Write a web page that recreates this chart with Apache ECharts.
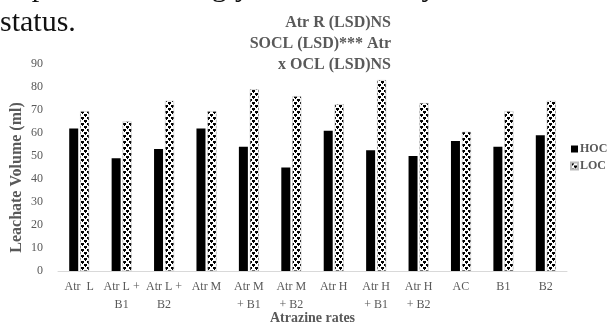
<!DOCTYPE html>
<html>
<head>
<meta charset="utf-8">
<script src="https://cdn.jsdelivr.net/npm/echarts@6/dist/echarts.min.js"></script>
<style>
  html, body { margin: 0; padding: 0; background: #fff; }
  #chart { width: 610px; height: 324px; }
</style>
</head>
<body>
<div id="chart"></div>
<script>
const categories = ["Atr  L", "Atr L +\nB1", "Atr L +\nB2", "Atr M", "Atr M\n+ B1", "Atr M\n+ B2",
  "Atr H", "Atr H\n+ B1", "Atr H\n+ B2", "AC", "B1", "B2"];
const hocValues = [62, 49, 53, 62, 54, 45, 61, 52.5, 50, 56.5, 54, 59];
const locValues = [69.5, 65, 74, 69.5, 79, 76, 72.5, 83, 73, 60.5, 69.5, 74];
const titleLines = ["Atr R (LSD)NS", "SOCL (LSD)*** Atr", "x OCL (LSD)NS"];
const bodyLines = ["impact: was strongly conditioned by soil OC", "status."];

function confettiPattern() {
  const c = document.createElement("canvas");
  c.width = 6;
  c.height = 6;
  const ctx = c.getContext("2d");
  ctx.fillStyle = "#ffffff";
  ctx.fillRect(0, 0, 6, 6);
  ctx.fillStyle = "#000000";
  ctx.fillRect(0, 0, 3, 2);
  ctx.fillRect(3, 3, 3, 2);
  ctx.fillRect(1, 2, 1, 1);
  ctx.fillRect(4, 5, 1, 1);
  return c;
}

const serif = "Liberation Serif";
const grey = "#595959";
const chart = echarts.init(document.getElementById("chart"));

chart.setOption({
  animation: false,
  textStyle: { fontFamily: serif },
  graphic: [
    {
      type: "text",
      x: 0,
      y: -27,
      style: { text: bodyLines[0], fontSize: 30, fontFamily: serif, fill: "#111" },
    },
    {
      type: "text",
      x: 0,
      y: 8,
      style: { text: bodyLines[1], fontSize: 30, fontFamily: serif, fill: "#111" },
    },
    {
      type: "text",
      x: 391,
      y: 12,
      style: {
        text: titleLines.join("\n"),
        align: "right",
        fontSize: 16,
        fontWeight: "bold",
        fontFamily: serif,
        lineHeight: 21,
        fill: grey,
      },
    },
  ],
  legend: {
    orient: "vertical",
    left: 565,
    top: 138,
    itemWidth: 7,
    itemHeight: 7,
    itemGap: 5,
    icon: "rect",
    textStyle: { fontSize: 12, fontWeight: "bold", color: grey, fontFamily: serif, padding: [0, 0, 0, -3] },
    data: ["HOC", "LOC"],
  },
  grid: { left: 58, right: 43, top: 64, bottom: 53, containLabel: false, outerBoundsMode: "none" },
  xAxis: {
    type: "category",
    data: categories,
    name: "Atrazine rates",
    nameLocation: "middle",
    nameGap: 40,
    nameMoveOverlap: false,
    nameTextStyle: { fontSize: 14, fontWeight: "bold", color: grey, fontFamily: serif },
    axisLine: { lineStyle: { color: "#d9d9d9", width: 1 } },
    axisTick: { show: false },
    axisLabel: { color: grey, fontSize: 12, interval: 0, margin: 7, lineHeight: 18, fontFamily: serif },
  },
  yAxis: {
    type: "value",
    min: 0,
    max: 90,
    interval: 10,
    name: "Leachate Volume (ml)",
    nameLocation: "middle",
    nameGap: 33,
    nameMoveOverlap: false,
    nameTextStyle: { fontSize: 16, fontWeight: "bold", color: grey, fontFamily: serif, padding: [0, 0, 0, -20] },
    axisLine: { show: false },
    axisTick: { show: false },
    splitLine: { show: false },
    axisLabel: { color: grey, fontSize: 12, margin: 15, fontFamily: serif },
  },
  series: [
    {
      name: "HOC",
      type: "bar",
      data: hocValues,
      barWidth: 9,
      barGap: "22%",
      itemStyle: { color: "#000000" },
    },
    {
      name: "LOC",
      type: "bar",
      data: locValues,
      barWidth: 9,
      itemStyle: { color: { image: confettiPattern(), repeat: "repeat" }, borderColor: "#bbbbbb", borderWidth: 0.5 },
    },
  ],
});
</script>
</body>
</html>
